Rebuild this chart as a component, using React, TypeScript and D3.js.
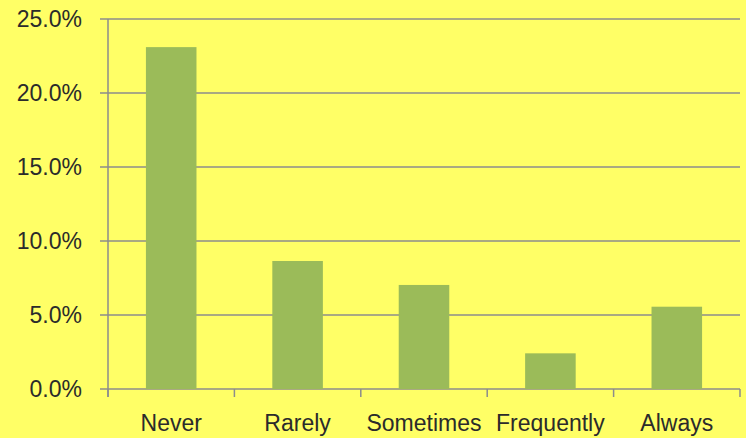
import { useMemo } from "react";
import * as d3 from "d3";

const categories = ["Never", "Rarely", "Sometimes", "Frequently", "Always"];
const shares = [0.231, 0.0865, 0.0703, 0.0241, 0.0556];
const yTicks = [0, 0.05, 0.1, 0.15, 0.2, 0.25];

const W = 746;
const H = 438;
const FONT = "'Liberation Sans', Arial, sans-serif";

export default function App() {
  const x = useMemo(
    () => d3.scaleBand<string>().domain(categories).range([108, 740]).paddingInner(0.6).paddingOuter(0.3),
    []
  );
  const band = useMemo(() => d3.scaleBand<string>().domain(categories).range([108, 740]), []);
  const y = useMemo(() => d3.scaleLinear().domain([0, 0.25]).range([389, 19]), []);
  const fmt = d3.format(".1%");

  const edges = [...categories.map((c) => band(c) as number), 740];

  return (
    <svg
      width={W}
      height={H}
      style={{ position: "absolute", left: 0, top: 0, background: "#ffff66" }}
      fontFamily={FONT}
    >
      <rect width={W} height={H} fill="#ffff66" />
      {/* gridlines + y ticks */}
      {yTicks.map((t) => (
        <g key={t}>
          <line x1={100} x2={740} y1={y(t)} y2={y(t)} stroke="#8c8c8c" strokeWidth={1.5} />
          <text x={82} y={y(t) + 8} textAnchor="end" fontSize={23} fill="#2b2b2b">
            {fmt(t)}
          </text>
        </g>
      ))}
      {/* y axis line */}
      <line x1={108} x2={108} y1={y(0.25)} y2={397} stroke="#8c8c8c" strokeWidth={1.5} />
      {/* x ticks */}
      {edges.map((e, i) => (
        <line key={i} x1={e} x2={e} y1={389} y2={397} stroke="#8c8c8c" strokeWidth={1.5} />
      ))}
      {/* bars */}
      {categories.map((c, i) => (
        <rect
          key={c}
          x={x(c)}
          y={y(shares[i])}
          width={x.bandwidth()}
          height={y(0) - y(shares[i])}
          fill="#9bbb59"
        />
      ))}
      {/* category labels */}
      {categories.map((c) => (
        <text
          key={c}
          x={(band(c) as number) + band.bandwidth() / 2}
          y={431}
          textAnchor="middle"
          fontSize={23}
          fill="#2b2b2b"
        >
          {c}
        </text>
      ))}
    </svg>
  );
}
